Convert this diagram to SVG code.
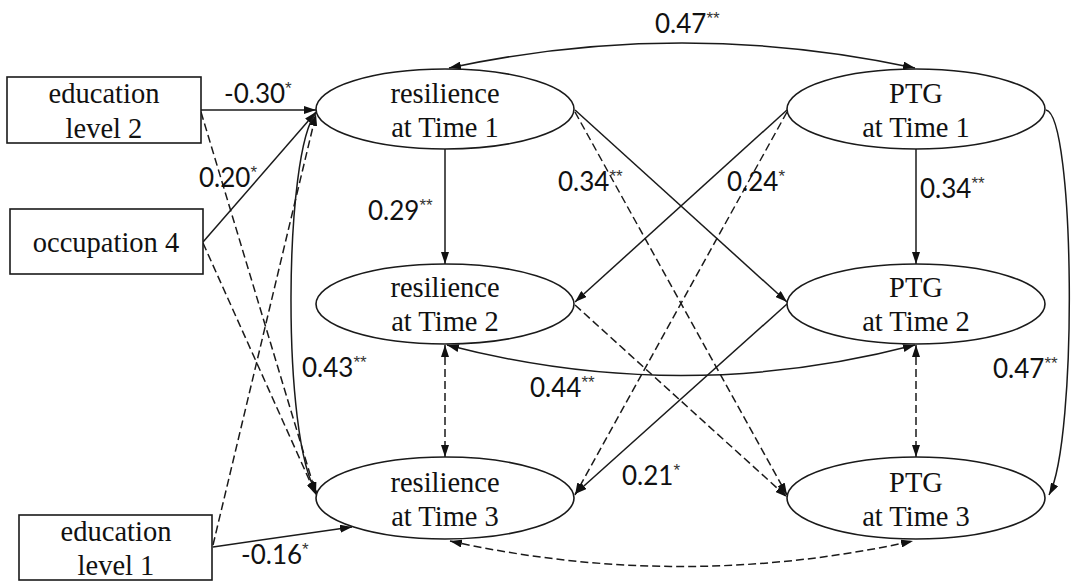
<svg xmlns="http://www.w3.org/2000/svg" width="1076" height="582" viewBox="0 0 1076 582">
<style>
.bg{fill:#ffffff}
.box{fill:#ffffff;stroke:#1a1a1a;stroke-width:1.6}
.ell{fill:#ffffff;stroke:#1a1a1a;stroke-width:1.6}
.nt{font-family:"Liberation Serif","Times New Roman",serif;font-size:28.5px;fill:#111;text-anchor:middle}
.c{fill:none;stroke:#1a1a1a;stroke-width:1.5;marker-end:url(#ah)}
.d{stroke-dasharray:8 4}
.both{marker-start:url(#ah)}
.lbl{font-family:Lato,"Liberation Sans",sans-serif;font-size:26px;fill:#111}
.sup{font-family:"Liberation Sans",sans-serif;font-size:17px;fill:#333}
</style>
<defs>
<marker id="ah" viewBox="0 0 12 8" refX="12" refY="4" markerWidth="12" markerHeight="8" markerUnits="userSpaceOnUse" orient="auto-start-reverse">
<path d="M0,0 L12,4 L0,8 z" fill="#111" stroke="none"/>
</marker>
</defs>
<rect class="bg" x="0" y="0" width="1076" height="582"/>
<g id="connectors">
<line class="c" x1="201" y1="110" x2="316" y2="110"/>
<line class="c" x1="203" y1="242" x2="316" y2="112"/>
<line class="c d" x1="201" y1="112" x2="316" y2="494"/>
<line class="c d" x1="203" y1="243" x2="316" y2="495"/>
<line class="c d" x1="213" y1="545" x2="316" y2="114"/>
<line class="c" x1="213" y1="547" x2="352" y2="527"/>
<line class="c" x1="445" y1="149" x2="445" y2="264"/>
<line class="c" x1="916" y1="149" x2="916" y2="264"/>
<line class="c d both" x1="445" y1="345" x2="445" y2="457"/>
<line class="c d both" x1="916" y1="345" x2="916" y2="457"/>
<line class="c" x1="575" y1="110" x2="787" y2="302"/>
<line class="c d" x1="575" y1="112" x2="787" y2="495"/>
<line class="c" x1="787" y1="110" x2="575" y2="302"/>
<line class="c d" x1="787" y1="112" x2="575" y2="495"/>
<line class="c d" x1="575" y1="305" x2="787" y2="497"/>
<line class="c" x1="787" y1="304" x2="575" y2="494"/>
<path class="c both" d="M449,68 Q682,18 915,68"/>
<path class="c both" d="M447,345 Q681,406 915,345"/>
<path class="c d both" d="M450,541 Q681,592 913,541"/>
<path class="c" d="M316,113 C284,150 281,440 317,493"/>
<path class="c" d="M1046,110 C1075,115 1078,440 1049,495"/>
<text class="lbl" x="655" y="33">0.47<tspan class="sup" dy="-9">**</tspan></text>
<text class="lbl" x="224" y="103">-0.30<tspan class="sup" dy="-9">*</tspan></text>
<text class="lbl" x="199" y="187">0.20<tspan class="sup" dy="-9">*</tspan></text>
<text class="lbl" x="368" y="220">0.29<tspan class="sup" dy="-9">**</tspan></text>
<text class="lbl" x="558" y="191">0.34<tspan class="sup" dy="-9">**</tspan></text>
<text class="lbl" x="727" y="191">0.24<tspan class="sup" dy="-9">*</tspan></text>
<text class="lbl" x="920" y="198">0.34<tspan class="sup" dy="-9">**</tspan></text>
<text class="lbl" x="302" y="377">0.43<tspan class="sup" dy="-9">**</tspan></text>
<text class="lbl" x="530" y="397">0.44<tspan class="sup" dy="-9">**</tspan></text>
<text class="lbl" x="622" y="485">0.21<tspan class="sup" dy="-9">*</tspan></text>
<text class="lbl" x="993" y="378">0.47<tspan class="sup" dy="-9">**</tspan></text>
<text class="lbl" x="241" y="564">-0.16<tspan class="sup" dy="-9">*</tspan></text>
</g>
<g id="edu2">
<rect class="box" x="7" y="77" width="194" height="66"/>
<text class="nt" x="104" y="103">education</text>
<text class="nt" x="104" y="138">level 2</text>
</g>
<g id="occ4">
<rect class="box" x="10" y="209" width="193" height="65"/>
<text class="nt" x="106" y="252">occupation 4</text>
</g>
<g id="edu1">
<rect class="box" x="19" y="515" width="193" height="65"/>
<text class="nt" x="116" y="541">education</text>
<text class="nt" x="116" y="575">level 1</text>
</g>
<g id="res1">
<ellipse class="ell" cx="445" cy="109" rx="129" ry="40"/>
<text class="nt" x="445" y="103">resilience</text>
<text class="nt" x="445" y="137">at Time 1</text>
</g>
<g id="res2">
<ellipse class="ell" cx="445" cy="304" rx="129" ry="40"/>
<text class="nt" x="445" y="297">resilience</text>
<text class="nt" x="445" y="331">at Time 2</text>
</g>
<g id="res3">
<ellipse class="ell" cx="445" cy="498" rx="129" ry="41"/>
<text class="nt" x="445" y="492">resilience</text>
<text class="nt" x="445" y="526">at Time 3</text>
</g>
<g id="ptg1">
<ellipse class="ell" cx="916" cy="109" rx="129" ry="40"/>
<text class="nt" x="916" y="103">PTG</text>
<text class="nt" x="916" y="137">at Time 1</text>
</g>
<g id="ptg2">
<ellipse class="ell" cx="916" cy="304" rx="129" ry="40"/>
<text class="nt" x="916" y="297">PTG</text>
<text class="nt" x="916" y="331">at Time 2</text>
</g>
<g id="ptg3">
<ellipse class="ell" cx="916" cy="498" rx="129" ry="41"/>
<text class="nt" x="916" y="492">PTG</text>
<text class="nt" x="916" y="526">at Time 3</text>
</g>
</svg>
